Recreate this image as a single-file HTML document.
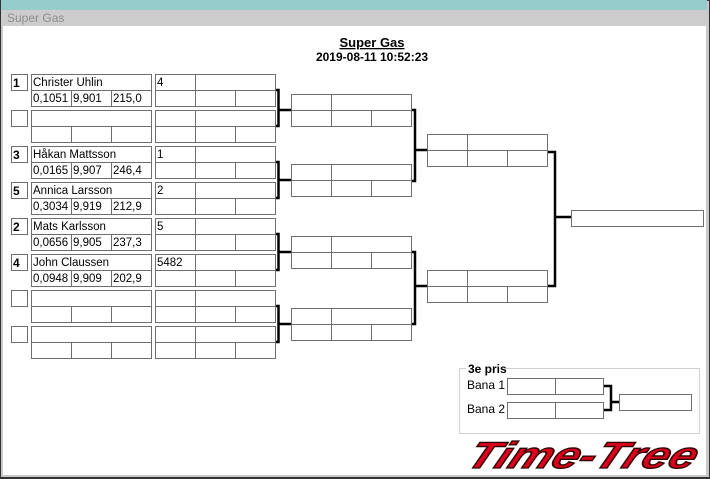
<!DOCTYPE html>
<html><head><meta charset="utf-8"><style>
html,body{margin:0;padding:0;background:#fff}
svg{display:block}
text{font-family:"Liberation Sans",Arial,sans-serif}
</style></head><body>
<svg width="710" height="479" viewBox="0 0 710 479" xmlns="http://www.w3.org/2000/svg">
<rect x="0" y="0" width="710" height="479" fill="#333"/>
<rect x="1" y="1" width="708" height="476" fill="#c8c8c8"/>
<rect x="1" y="0" width="706" height="10" fill="#96cccc"/>
<rect x="1" y="10" width="706" height="16" fill="#cccccc"/>
<text x="7" y="22" font-size="12" fill="#8c8c8c">Super Gas</text>
<rect x="3" y="26" width="703" height="449" fill="#fff"/>

<text x="372" y="47" font-size="13" font-weight="bold" text-anchor="middle" text-decoration="underline">Super Gas</text>
<text x="372" y="61" font-size="12" font-weight="bold" text-anchor="middle">2019-08-11 10:52:23</text>

<g fill="none" stroke="#6e6e6e" stroke-width="1">
<rect x="11.5" y="74.5" width="16" height="16"/><rect x="31.5" y="74.5" width="120" height="32"/><line x1="31" y1="90.5" x2="152" y2="90.5"/><line x1="71.5" y1="90" x2="71.5" y2="106"/><line x1="111.5" y1="90" x2="111.5" y2="106"/><rect x="155.5" y="74.5" width="120" height="32"/><line x1="155" y1="90.5" x2="276" y2="90.5"/><line x1="195.5" y1="74" x2="195.5" y2="106"/><line x1="235.5" y1="90" x2="235.5" y2="106"/>
<rect x="11.5" y="110.5" width="16" height="16"/><rect x="31.5" y="110.5" width="120" height="32"/><line x1="31" y1="126.5" x2="152" y2="126.5"/><line x1="71.5" y1="126" x2="71.5" y2="142"/><line x1="111.5" y1="126" x2="111.5" y2="142"/><rect x="155.5" y="110.5" width="120" height="32"/><line x1="155" y1="126.5" x2="276" y2="126.5"/><line x1="195.5" y1="110" x2="195.5" y2="142"/><line x1="235.5" y1="126" x2="235.5" y2="142"/>
<rect x="11.5" y="146.5" width="16" height="16"/><rect x="31.5" y="146.5" width="120" height="32"/><line x1="31" y1="162.5" x2="152" y2="162.5"/><line x1="71.5" y1="162" x2="71.5" y2="178"/><line x1="111.5" y1="162" x2="111.5" y2="178"/><rect x="155.5" y="146.5" width="120" height="32"/><line x1="155" y1="162.5" x2="276" y2="162.5"/><line x1="195.5" y1="146" x2="195.5" y2="178"/><line x1="235.5" y1="162" x2="235.5" y2="178"/>
<rect x="11.5" y="182.5" width="16" height="16"/><rect x="31.5" y="182.5" width="120" height="32"/><line x1="31" y1="198.5" x2="152" y2="198.5"/><line x1="71.5" y1="198" x2="71.5" y2="214"/><line x1="111.5" y1="198" x2="111.5" y2="214"/><rect x="155.5" y="182.5" width="120" height="32"/><line x1="155" y1="198.5" x2="276" y2="198.5"/><line x1="195.5" y1="182" x2="195.5" y2="214"/><line x1="235.5" y1="198" x2="235.5" y2="214"/>
<rect x="11.5" y="218.5" width="16" height="16"/><rect x="31.5" y="218.5" width="120" height="32"/><line x1="31" y1="234.5" x2="152" y2="234.5"/><line x1="71.5" y1="234" x2="71.5" y2="250"/><line x1="111.5" y1="234" x2="111.5" y2="250"/><rect x="155.5" y="218.5" width="120" height="32"/><line x1="155" y1="234.5" x2="276" y2="234.5"/><line x1="195.5" y1="218" x2="195.5" y2="250"/><line x1="235.5" y1="234" x2="235.5" y2="250"/>
<rect x="11.5" y="254.5" width="16" height="16"/><rect x="31.5" y="254.5" width="120" height="32"/><line x1="31" y1="270.5" x2="152" y2="270.5"/><line x1="71.5" y1="270" x2="71.5" y2="286"/><line x1="111.5" y1="270" x2="111.5" y2="286"/><rect x="155.5" y="254.5" width="120" height="32"/><line x1="155" y1="270.5" x2="276" y2="270.5"/><line x1="195.5" y1="254" x2="195.5" y2="286"/><line x1="235.5" y1="270" x2="235.5" y2="286"/>
<rect x="11.5" y="290.5" width="16" height="16"/><rect x="31.5" y="290.5" width="120" height="32"/><line x1="31" y1="306.5" x2="152" y2="306.5"/><line x1="71.5" y1="306" x2="71.5" y2="322"/><line x1="111.5" y1="306" x2="111.5" y2="322"/><rect x="155.5" y="290.5" width="120" height="32"/><line x1="155" y1="306.5" x2="276" y2="306.5"/><line x1="195.5" y1="290" x2="195.5" y2="322"/><line x1="235.5" y1="306" x2="235.5" y2="322"/>
<rect x="11.5" y="326.5" width="16" height="16"/><rect x="31.5" y="326.5" width="120" height="32"/><line x1="31" y1="342.5" x2="152" y2="342.5"/><line x1="71.5" y1="342" x2="71.5" y2="358"/><line x1="111.5" y1="342" x2="111.5" y2="358"/><rect x="155.5" y="326.5" width="120" height="32"/><line x1="155" y1="342.5" x2="276" y2="342.5"/><line x1="195.5" y1="326" x2="195.5" y2="358"/><line x1="235.5" y1="342" x2="235.5" y2="358"/>

<rect x="291.5" y="94.5" width="120" height="32"/><line x1="291" y1="110.5" x2="412" y2="110.5"/><line x1="331.5" y1="94" x2="331.5" y2="126"/><line x1="371.5" y1="110" x2="371.5" y2="126"/>
<rect x="291.5" y="164.5" width="120" height="32"/><line x1="291" y1="180.5" x2="412" y2="180.5"/><line x1="331.5" y1="164" x2="331.5" y2="196"/><line x1="371.5" y1="180" x2="371.5" y2="196"/>
<rect x="291.5" y="236.5" width="120" height="32"/><line x1="291" y1="252.5" x2="412" y2="252.5"/><line x1="331.5" y1="236" x2="331.5" y2="268"/><line x1="371.5" y1="252" x2="371.5" y2="268"/>
<rect x="291.5" y="308.5" width="120" height="32"/><line x1="291" y1="324.5" x2="412" y2="324.5"/><line x1="331.5" y1="308" x2="331.5" y2="340"/><line x1="371.5" y1="324" x2="371.5" y2="340"/>
<rect x="427.5" y="134.5" width="120" height="32"/><line x1="427" y1="150.5" x2="548" y2="150.5"/><line x1="467.5" y1="134" x2="467.5" y2="166"/><line x1="507.5" y1="150" x2="507.5" y2="166"/>
<rect x="427.5" y="270.5" width="120" height="32"/><line x1="427" y1="286.5" x2="548" y2="286.5"/><line x1="467.5" y1="270" x2="467.5" y2="302"/><line x1="507.5" y1="286" x2="507.5" y2="302"/>
<rect x="571.5" y="210.5" width="132" height="16"/>
<rect x="459.5" y="368.5" width="240" height="65" stroke="#d0d0d0"/>
<rect x="507.5" y="378.5" width="96" height="16"/><line x1="555.5" y1="378" x2="555.5" y2="394"/>
<rect x="507.5" y="402.5" width="96" height="16"/><line x1="555.5" y1="402" x2="555.5" y2="418"/>
<rect x="619.5" y="394.5" width="72" height="16"/>
</g>

<g fill="none" stroke="#000" stroke-width="2.5">
<path d="M276 90 H278.5 V126 H276 M278.5 110 H291"/>
<path d="M276 162 H278.5 V198 H276 M278.5 180 H291"/>
<path d="M276 234 H278.5 V270 H276 M278.5 252 H291"/>
<path d="M276 306 H278.5 V342 H276 M278.5 324 H291"/>
<path d="M412 110 H415 V181 H412 M415 150 H427"/>
<path d="M412 252 H415 V324 H412 M415 286 H427"/>
<path d="M548 152 H555 V286 H548 M555 217 H571"/>
<path d="M604 386 H611 V410 H604 M611 402 H619"/>
</g>

<g font-size="11.5" fill="#000">
<text x="13" y="87" font-weight="bold" font-size="12">1</text>
<text x="33" y="86">Christer Uhlin</text><text x="33" y="102">0,1051</text><text x="73" y="102">9,901</text><text x="113" y="102">215,0</text><text x="157" y="86">4</text>
<text x="13" y="159" font-weight="bold" font-size="12">3</text>
<text x="33" y="158">Håkan Mattsson</text><text x="33" y="174">0,0165</text><text x="73" y="174">9,907</text><text x="113" y="174">246,4</text><text x="157" y="158">1</text>
<text x="13" y="195" font-weight="bold" font-size="12">5</text>
<text x="33" y="194">Annica Larsson</text><text x="33" y="210">0,3034</text><text x="73" y="210">9,919</text><text x="113" y="210">212,9</text><text x="157" y="194">2</text>
<text x="13" y="231" font-weight="bold" font-size="12">2</text>
<text x="33" y="230">Mats Karlsson</text><text x="33" y="246">0,0656</text><text x="73" y="246">9,905</text><text x="113" y="246">237,3</text><text x="157" y="230">5</text>
<text x="13" y="267" font-weight="bold" font-size="12">4</text>
<text x="33" y="266">John Claussen</text><text x="33" y="282">0,0948</text><text x="73" y="282">9,909</text><text x="113" y="282">202,9</text><text x="157" y="266">5482</text>
<rect x="466" y="363" width="40" height="12" fill="#fff"/>
<text x="468" y="373" font-weight="bold" font-size="12">3e pris</text>
<text x="467" y="389" font-size="12">Bana 1</text>
<text x="467" y="413" font-size="12">Bana 2</text>
</g>

<g transform="translate(464,468) skewX(-24)">
<text x="0" y="0" font-size="38" font-weight="bold" font-style="italic" fill="#d8001c" stroke="#300" stroke-width="1.4" textLength="228" lengthAdjust="spacingAndGlyphs" transform="scale(1,0.98)">Time-Tree</text>
</g>
</svg>
</body></html>
